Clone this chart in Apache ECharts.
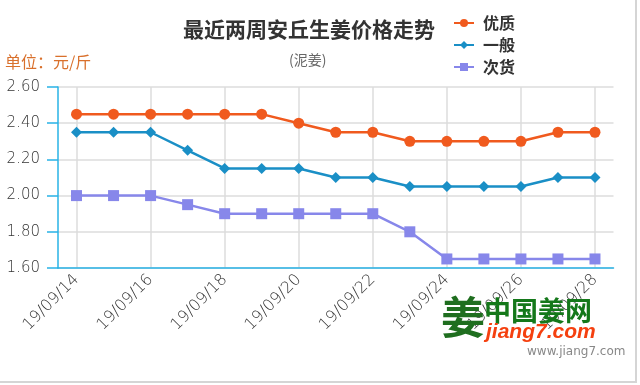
<!DOCTYPE html>
<html>
<head>
<meta charset="utf-8">
<script src="https://cdn.jsdelivr.net/npm/echarts@6/dist/echarts.min.js"></script>
<style>html,body{margin:0;padding:0;background:#fff}#main{width:640px;height:385px}</style>
</head>
<body>
<div id="main"></div>
<script>
var categories = ['19/09/14','19/09/15','19/09/16','19/09/17','19/09/18','19/09/19','19/09/20','19/09/21','19/09/22','19/09/23','19/09/24','19/09/25','19/09/26','19/09/27','19/09/28'];
var youzhi = [2.45,2.45,2.45,2.45,2.45,2.45,2.40,2.35,2.35,2.30,2.30,2.30,2.30,2.35,2.35];
var yiban  = [2.35,2.35,2.35,2.25,2.15,2.15,2.15,2.10,2.10,2.05,2.05,2.05,2.05,2.10,2.10];
var cihuo  = [2.00,2.00,2.00,1.95,1.90,1.90,1.90,1.90,1.90,1.80,1.65,1.65,1.65,1.65,1.65];
var seriesNames = ['优质','一般','次货'];

var axisColor = '#29b3e6';
var cjk = '"Noto Sans CJK SC", "DejaVu Sans", sans-serif';
var num = '"DejaVu Sans", sans-serif';

var chart = echarts.init(document.getElementById('main'));
chart.setOption({
  animation: false,
  title: [
    {text: '最近两周安丘生姜价格走势', left: 183, top: 19, padding: 0,
     textStyle: {fontSize: 21, fontWeight: 'bold', color: '#333', fontFamily: cjk}},
    {text: '(泥姜)', left: 289, top: 53, padding: 0,
     textStyle: {fontSize: 14, fontWeight: 'normal', color: '#666', fontFamily: cjk}},
    {text: '单位：元/斤', left: 5, top: 54, padding: 0,
     textStyle: {fontSize: 16, fontWeight: 'normal', color: '#d9702c', fontFamily: cjk}}
  ],
  legend: {
    orient: 'vertical', left: 453, top: 15, padding: 0,
    itemWidth: 20, itemHeight: 10, itemGap: 6,
    data: seriesNames,
    textStyle: {fontSize: 16, fontWeight: 'bold', color: '#333', fontFamily: cjk, lineHeight: 16, padding: [0, 0, 0, 4]}
  },
  grid: {left: 58, right: 26.5, top: 87, bottom: 117, containLabel: false},
  xAxis: {
    type: 'category', data: categories, boundaryGap: true,
    axisLine: {lineStyle: {color: axisColor, width: 1.5}},
    axisTick: {alignWithLabel: true, interval: 1, length: 12, lineStyle: {color: axisColor, width: 1.5}},
    axisLabel: {interval: 1, rotate: 45, color: '#333', fontSize: 16, fontWeight: 200, fontFamily: num, margin: 9},
    splitLine: {show: true, alignWithLabel: true, interval: 1, lineStyle: {color: '#ddd', width: 1.5}}
  },
  yAxis: {
    type: 'value', min: 1.6, max: 2.6, interval: 0.2,
    axisLine: {show: true, lineStyle: {color: axisColor, width: 1.5}},
    axisTick: {show: true, length: 11, lineStyle: {color: axisColor, width: 1.5}},
    axisLabel: {color: '#333', fontSize: 15, fontWeight: 200, fontFamily: num, margin: 18,
      formatter: function (v) { return v.toFixed(2); }},
    splitLine: {show: true, lineStyle: {color: '#ddd', width: 1.5}}
  },
  series: [
    {name: seriesNames[0], type: 'line', data: youzhi, symbol: 'circle', symbolSize: 11,
     itemStyle: {color: '#f05a1e'}, lineStyle: {width: 2.5, color: '#f05a1e'}},
    {name: seriesNames[1], type: 'line', data: yiban, symbol: 'diamond', symbolSize: 11,
     itemStyle: {color: '#1a8fc6'}, lineStyle: {width: 2.5, color: '#1a8fc6'}},
    {name: seriesNames[2], type: 'line', data: cihuo, symbol: 'rect', symbolSize: 11,
     itemStyle: {color: '#8787ea'}, lineStyle: {width: 2.5, color: '#8787ea'}}
  ],
  graphic: [
    {type: 'text', left: 441, top: 295, z: 10, style: {text: '姜', fontSize: 44, fontWeight: 'bold', fill: '#1f6e1f', fontFamily: cjk}},
    {type: 'text', left: 484, top: 297, z: 10, style: {text: '中国姜网', fontSize: 27, fontWeight: 'bold', fill: '#14781a', fontFamily: cjk}},
    {type: 'text', left: 486, top: 322, z: 10, style: {text: 'jiang7.com', fontSize: 21, fontWeight: 'bold', fontStyle: 'italic', fill: '#f5400f', fontFamily: '"Liberation Sans", sans-serif'}},
    {type: 'text', left: 527, top: 346, z: 10, style: {text: 'www.jiang7.com', fontSize: 12, fill: '#888', fontFamily: num}},
    {type: 'line', shape: {x1: 636, y1: 0, x2: 636, y2: 382}, style: {stroke: '#d5d5d5', lineWidth: 2}},
    {type: 'line', shape: {x1: 0, y1: 382, x2: 637, y2: 382}, style: {stroke: '#d5d5d5', lineWidth: 2}}
  ]
});
</script>
</body>
</html>
